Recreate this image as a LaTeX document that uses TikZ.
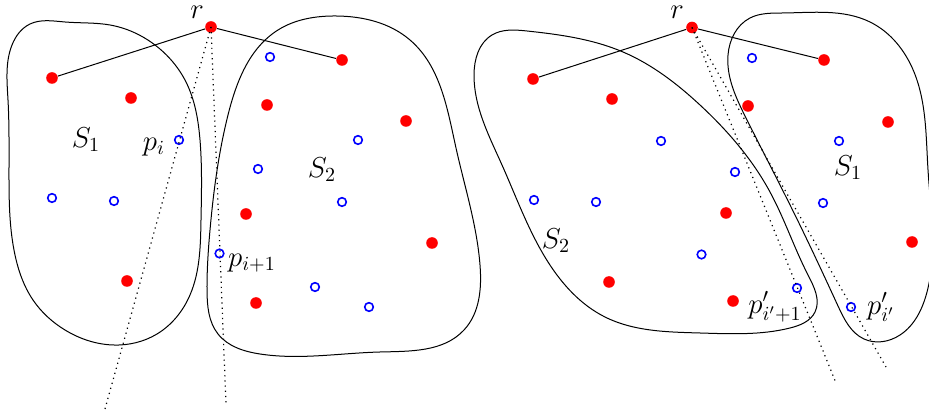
\documentclass[tikz,border=0pt]{standalone}
\usetikzlibrary{hobby}
\begin{document}
\begin{tikzpicture}[x=0.5pt,y=-0.5pt,
  rdot/.style={circle,fill=red,inner sep=0pt,minimum size=5.8pt},
  bdot/.style={circle,draw=blue,line width=0.8pt,inner sep=0pt,minimum size=4.3pt},
  lab/.style={inner sep=0pt,font=\fontsize{14}{16}\selectfont},
  blob/.style={line width=0.5pt,use Hobby shortcut,closed=true},
  seg/.style={line width=0.5pt},
  ray/.style={line width=0.6pt,dash pattern=on 0.6pt off 2pt}]
\useasboundingbox (0,0) rectangle (929,415);
% ---------- left panel ----------
\draw[blob] (30,24) .. (65,22) .. (110,25) .. (155,45) .. (186,82) .. (200,140)
 .. (201,220) .. (190,295) .. (157,334) .. (113,345) .. (65,330) .. (33,300)
 .. (15,255) .. (9,180) .. (8,100) .. (12,45);
\draw[blob] (336,16) .. (410,40) .. (456,148) .. (480,265) .. (464,330) .. (380,352)
 .. (260,354) .. (218,334) .. (207,290) .. (210,230) .. (228,115) .. (278,30);
\node[rdot] (r1) at (211,27) {};
\node[rdot] (a1) at (52,78) {};
\node[rdot] (a2) at (131,98) {};
\node[rdot] (a3) at (127,281) {};
\node[rdot] (a4) at (342,60) {};
\node[rdot] (a5) at (267,105) {};
\node[rdot] (a6) at (406,121) {};
\node[rdot] (a7) at (246,214) {};
\node[rdot] (a8) at (432,243) {};
\node[rdot] (a9) at (256,303) {};
\node[bdot] (pi) at (179,140) {};
\node[bdot] (b2) at (52,198) {};
\node[bdot] (b3) at (114,201) {};
\node[bdot] (b4) at (270,57) {};
\node[bdot] (b5) at (358,140) {};
\node[bdot] (b6) at (258,169) {};
\node[bdot] (b7) at (342,202) {};
\node[bdot] (pii) at (219.5,253.5) {};
\node[bdot] (b9) at (315,287) {};
\node[bdot] (b10) at (369,307) {};
\coordinate (e1) at (105,409);
\coordinate (e2) at (226,404);
\draw[seg] (r1) -- (a1);
\draw[seg] (r1) -- (a4);
\draw[ray] (r1.center) -- (e1);
\draw[ray] (r1.center) -- (e2);
\node[lab] (lr1) at (197,12) {$r$};
\node[lab] (ls1) at (86,140) {$S_1$};
\node[lab] (lpi) at (154,147) {$p_i$};
\node[lab] (ls2) at (322,170) {$S_2$};
\node[lab] (lpii) at (252,263) {$p_{i+1}$};
% ---------- right panel ----------
\draw[blob] (527,31) .. (623,52) .. (700,105) .. (770,192) .. (808,275) .. (815,312)
 .. (790,328) .. (700,333) .. (605,317) .. (548,262) .. (502,165) .. (474,75) .. (492,35);
\draw[blob] (783,13) .. (870,22) .. (914,72) .. (928,170) .. (927,292) .. (900,335)
 .. (864,339) .. (838,306) .. (795,215) .. (746,118) .. (728,55) .. (750,18);
\node[rdot] (r2) at (692,27.5) {};
\node[rdot] (c1) at (533,79) {};
\node[rdot] (c2) at (612,99) {};
\node[rdot] (c3) at (609,282) {};
\node[rdot] (c4) at (824,60) {};
\node[rdot] (c5) at (748,106) {};
\node[rdot] (c6) at (888,122) {};
\node[rdot] (c7) at (726,213) {};
\node[rdot] (c8) at (912,242) {};
\node[rdot] (c9) at (733,301) {};
\node[bdot] (d1) at (661,141) {};
\node[bdot] (d2) at (534,200) {};
\node[bdot] (d3) at (596,202) {};
\node[bdot] (d4) at (752,58) {};
\node[bdot] (d5) at (839,141) {};
\node[bdot] (d6) at (735,172) {};
\node[bdot] (d7) at (823,203) {};
\node[bdot] (d8) at (701.5,254.5) {};
\node[bdot] (pj1) at (797,288) {};
\node[bdot] (pj) at (851,307) {};
\coordinate (f1) at (836,383);
\coordinate (f2) at (886,367);
\draw[seg] (r2) -- (c1);
\draw[seg] (r2) -- (c4);
\draw[ray] (r2.center) -- (f1);
\draw[ray] (r2.center) -- (f2);
\node[lab] (lr2) at (677,12) {$r$};
\node[lab] (ls2b) at (556,241) {$S_2$};
\node[lab] (ls1b) at (848,168) {$S_1$};
\node[lab] (lpj1) at (775,307) {$p'_{i'+1}$};
\node[lab] (lpj) at (881,307) {$p'_{i'}$};
\end{tikzpicture}
\end{document}
